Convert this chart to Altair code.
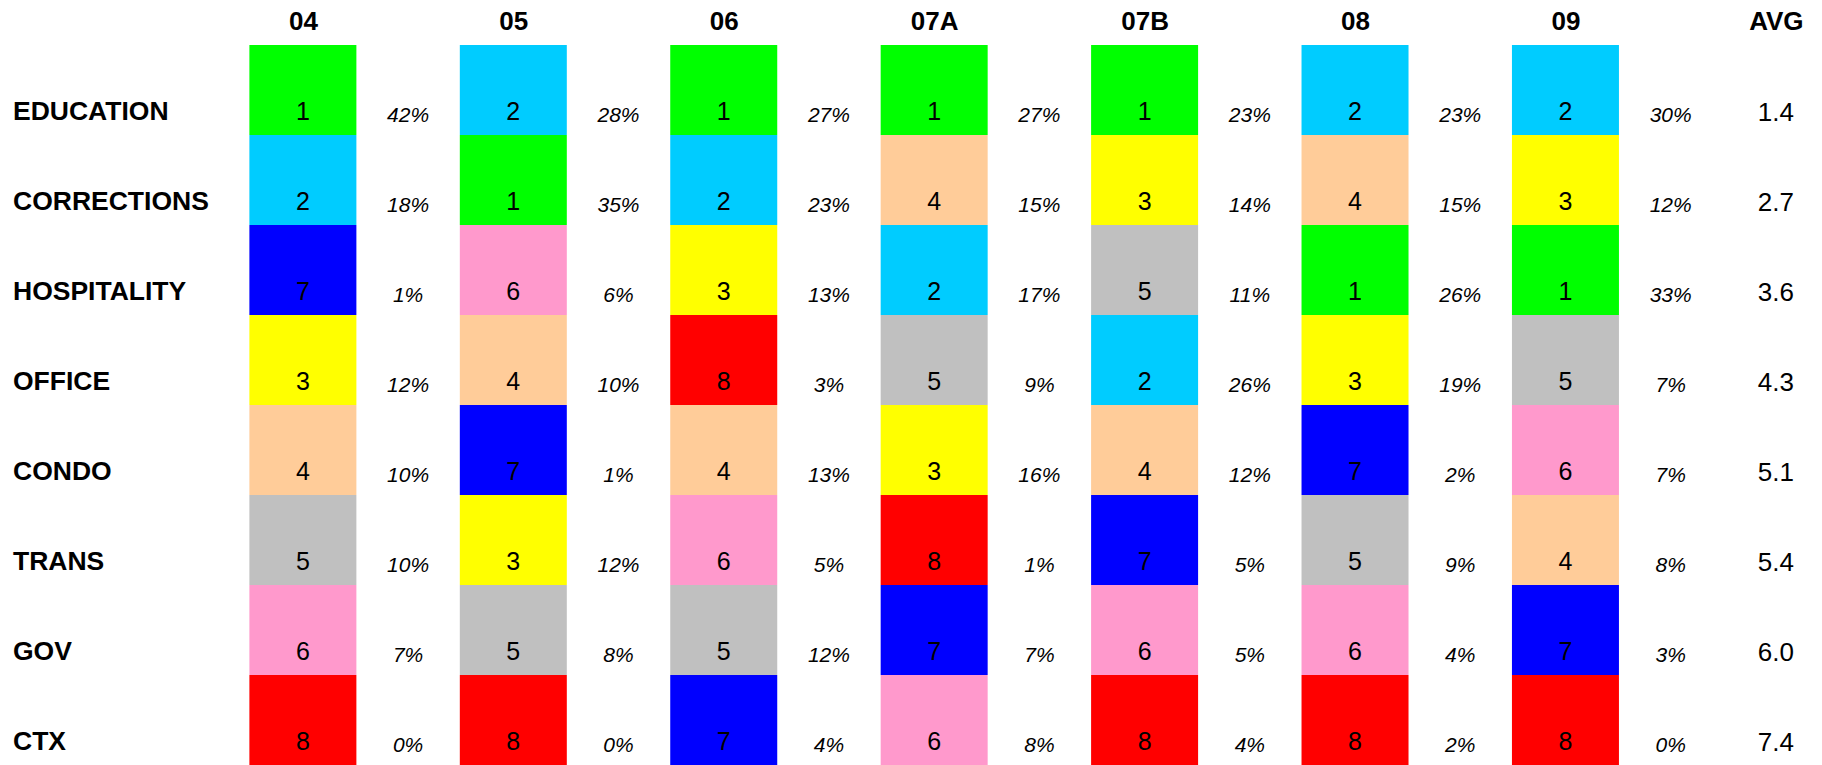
import altair as alt
import pandas as pd

periods = ["04", "05", "06", "07A", "07B", "08", "09"]
sectors = ["EDUCATION", "CORRECTIONS", "HOSPITALITY", "OFFICE", "CONDO", "TRANS", "GOV", "CTX"]

rank_education = [1, 2, 1, 1, 1, 2, 2]
rank_corrections = [2, 1, 2, 4, 3, 4, 3]
rank_hospitality = [7, 6, 3, 2, 5, 1, 1]
rank_office = [3, 4, 8, 5, 2, 3, 5]
rank_condo = [4, 7, 4, 3, 4, 7, 6]
rank_trans = [5, 3, 6, 8, 7, 5, 4]
rank_gov = [6, 5, 5, 7, 6, 6, 7]
rank_ctx = [8, 8, 7, 6, 8, 8, 8]

share_education = [42, 28, 27, 27, 23, 23, 30]
share_corrections = [18, 35, 23, 15, 14, 15, 12]
share_hospitality = [1, 6, 13, 17, 11, 26, 33]
share_office = [12, 10, 3, 9, 26, 19, 7]
share_condo = [10, 1, 13, 16, 12, 2, 7]
share_trans = [10, 12, 5, 1, 5, 9, 8]
share_gov = [7, 8, 12, 7, 5, 4, 3]
share_ctx = [0, 0, 4, 8, 4, 2, 0]

averages = [1.4, 2.7, 3.6, 4.3, 5.1, 5.4, 6.0, 7.4]

rank_values = [1, 2, 3, 4, 5, 6, 7, 8]
rank_colors = ["#00FF00", "#00CCFF", "#FFFF00", "#FFCC99", "#C0C0C0", "#FF99CC", "#0000FF", "#FF0000"]

ranks = [rank_education, rank_corrections, rank_hospitality, rank_office,
         rank_condo, rank_trans, rank_gov, rank_ctx]
shares = [share_education, share_corrections, share_hospitality, share_office,
          share_condo, share_trans, share_gov, share_ctx]

records = []
for ri, s in enumerate(sectors):
    for ci, p in enumerate(periods):
        records.append(dict(sector=s, ri=ri, period=p, ci=ci,
                            rank=ranks[ri][ci], share=f"{shares[ri][ci]}%"))
cells = pd.DataFrame(records)
avg_df = pd.DataFrame(dict(sector=sectors, ri=list(range(len(sectors))),
                           ci=[len(periods)] * len(sectors),
                           avg=[f"{a:.1f}" for a in averages]))

headers = periods + ["AVG"]
label_expr = "[" + ",".join(f"'{h}'" for h in headers) + "][datum.value]"

FONT = "Liberation Sans"
xscale = alt.Scale(domain=[-1.3776, 7.1574], nice=False, zero=False)
yscale = alt.Scale(domain=[0, 8], nice=False, zero=False, reverse=True)

base = alt.Chart(cells).transform_calculate(
    ri1="datum.ri + 1", rc="datum.ri + 0.5", cp="datum.ci + 0.5"
)

bars = base.mark_bar(width=107).encode(
    x=alt.X("ci:Q", scale=xscale, title=None,
            axis=alt.Axis(orient="top", values=list(range(len(headers))),
                          labelExpr=label_expr, domain=False, ticks=False, tickSize=0,
                          grid=False, labelFont=FONT, labelFontSize=26,
                          labelFontWeight="bold", labelColor="#000000",
                          labelBaseline="alphabetic", labelPadding=16,
                          labelAlign="center")),
    y=alt.Y("ri:Q", scale=yscale, axis=None),
    y2="ri1:Q",
    color=alt.Color("rank:O", scale=alt.Scale(domain=rank_values, range=rank_colors), legend=None),
)

rank_text = base.mark_text(font=FONT, fontSize=25, baseline="alphabetic", dy=30, color="#000000").encode(
    x=alt.X("ci:Q", scale=xscale, title=None),
    y=alt.Y("rc:Q", scale=yscale, axis=None),
    text="rank:Q",
)

share_text = base.mark_text(font=FONT, fontSize=21, fontStyle="italic", baseline="alphabetic",
                            dy=32, color="#000000").encode(
    x=alt.X("cp:Q", scale=xscale, title=None),
    y=alt.Y("rc:Q", scale=yscale, axis=None),
    text="share:N",
)

avg_base = alt.Chart(avg_df).transform_calculate(rc="datum.ri + 0.5")

avg_text = avg_base.mark_text(font=FONT, fontSize=26, baseline="alphabetic", dy=31, color="#000000").encode(
    x=alt.X("ci:Q", scale=xscale, title=None),
    y=alt.Y("rc:Q", scale=yscale, axis=None),
    text="avg:N",
)

row_labels = avg_base.mark_text(font=FONT, fontSize=26.5, fontWeight="bold", align="left",
                                baseline="alphabetic", dy=30, color="#000000").encode(
    x=alt.value(5),
    y=alt.Y("rc:Q", scale=yscale, axis=None),
    text="sector:N",
)

chart = alt.layer(bars, rank_text, share_text, avg_text, row_labels).properties(
    width=1806, height=720,
    background="#ffffff",
    autosize=alt.AutoSizeParams(type="none"),
    padding={"top": 37, "left": 0, "right": 0, "bottom": 0},
).configure_view(stroke=None)

chart.save("out.html", embed_options={"renderer": "svg", "actions": False})
